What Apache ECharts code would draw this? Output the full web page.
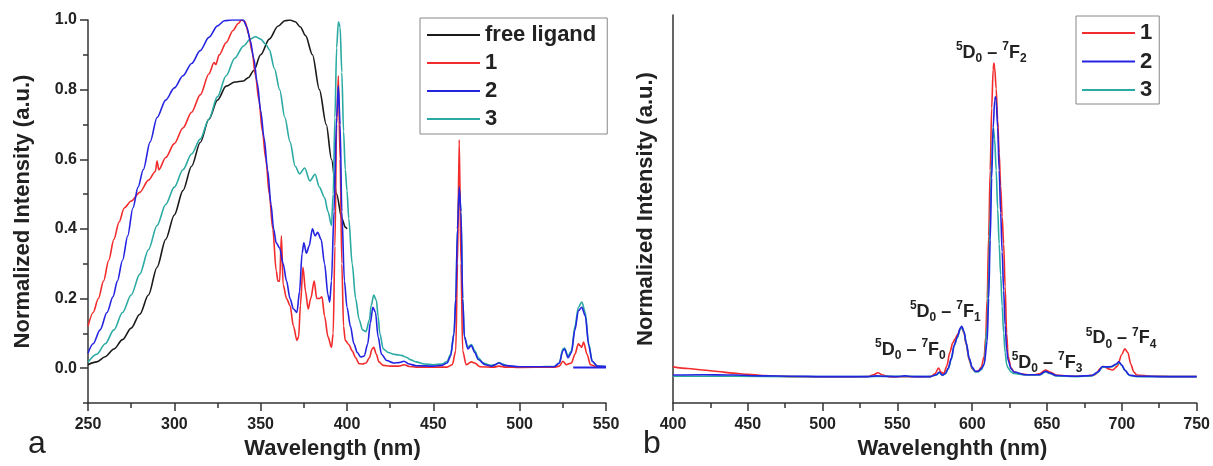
<!DOCTYPE html>
<html>
<head>
<meta charset="utf-8">
<script src="https://cdn.jsdelivr.net/npm/echarts@6/dist/echarts.min.js"></script>
<style>
html,body{margin:0;padding:0;background:#fff;}
#chart{width:1213px;height:466px;}
</style>
</head>
<body>
<div id="chart"></div>
<script>
// ---------- Panel a: excitation spectra ----------
const freeLigandA = [[250,0.010],[255,0.018],[260,0.033],[265,0.055],[270,0.082],[275,0.115],[280,0.155],[285,0.21],[290,0.29],[295,0.37],[300,0.44],[305,0.51],[310,0.58],[315,0.648],[320,0.715],[325,0.77],[330,0.81],[335,0.822],[340,0.825],[343,0.835],[346,0.855],[350,0.90],[355,0.945],[360,0.982],[364,0.998],[367,1.0],[370,0.995],[373,0.98],[376,0.955],[380,0.90],[384,0.80],[388,0.70],[391,0.60],[394,0.50],[397,0.43],[399,0.405],[400,0.40]];

const sample1A = [[250,0.12],[253,0.16],[256,0.20],[259,0.25],[262,0.31],[265,0.37],[268,0.42],[271,0.46],[275,0.48],[280,0.505],[285,0.54],[289,0.565],[290,0.595],[291,0.57],[295,0.605],[300,0.645],[305,0.69],[310,0.735],[315,0.785],[320,0.845],[323,0.878],[324,0.872],[326,0.90],[330,0.935],[334,0.97],[337,0.99],[339,1.0],[341,0.995],[343,0.96],[345,0.91],[347,0.84],[349,0.77],[351,0.68],[353,0.60],[355,0.50],[357,0.40],[359,0.28],[360,0.25],[361,0.25],[362,0.38],[363,0.24],[365,0.20],[367,0.18],[369,0.12],[371,0.08],[372,0.09],[373,0.18],[374.5,0.29],[376,0.22],[377.5,0.17],[379,0.20],[381,0.25],[382.5,0.20],[384,0.20],[385.5,0.205],[387,0.15],[389,0.09],[391,0.06],[392,0.10],[393,0.35],[394,0.70],[395,0.84],[396,0.60],[397,0.30],[398,0.12],[399,0.08],[401,0.068],[403,0.05],[405,0.03],[407,0.013],[409,0.012],[411,0.015],[413,0.03],[414.5,0.055],[415.5,0.06],[417,0.04],[418.5,0.018],[421,0.008],[425,0.006],[430,0.006],[433,0.01],[436,0.005],[440,0.003],[450,0.003],[458,0.003],[461,0.01],[463,0.05],[464,0.30],[465,0.656],[466,0.30],[467,0.05],[469,0.01],[472,0.018],[474,0.015],[477,0.004],[485,0.003],[488,0.006],[492,0.003],[500,0.002],[520,0.003],[523,0.006],[525,0.02],[527,0.01],[530,0.015],[532,0.04],[534,0.07],[535,0.065],[536,0.06],[537,0.075],[539,0.04],[541,0.01],[545,0.003],[550,0.003]];

const sample2A = [[250,0.043],[253,0.07],[257,0.11],[261,0.16],[264.5,0.205],[267,0.25],[270,0.31],[273,0.38],[276,0.46],[279,0.52],[282,0.57],[286,0.65],[290,0.72],[295,0.77],[300,0.805],[305,0.84],[310,0.875],[315,0.912],[320,0.95],[325,0.983],[329,0.998],[333,1.0],[340,1.0],[342,0.98],[344,0.94],[346,0.89],[348,0.82],[350,0.74],[352,0.66],[354,0.57],[356,0.47],[357.5,0.40],[359,0.36],[361,0.345],[363,0.30],[365,0.25],[367,0.20],[369,0.17],[371,0.16],[372.5,0.22],[374,0.33],[375,0.36],[376.5,0.33],[378,0.35],[380,0.40],[381.5,0.38],[383,0.39],[385,0.37],[387,0.30],[389,0.21],[390,0.19],[391,0.25],[392.5,0.45],[394,0.72],[395,0.81],[396,0.70],[397,0.45],[398.5,0.25],[400,0.175],[402,0.12],[404,0.07],[406,0.045],[408,0.032],[410,0.035],[412,0.07],[413.5,0.13],[415,0.175],[416.5,0.16],[418,0.09],[420,0.04],[423,0.022],[427,0.015],[430,0.016],[433,0.02],[436,0.012],[440,0.007],[450,0.006],[455,0.008],[458,0.015],[460,0.035],[462,0.10],[463,0.20],[464,0.40],[465,0.52],[466,0.45],[467,0.20],[468,0.09],[470,0.055],[472,0.065],[474,0.045],[476,0.025],[480,0.01],[484,0.006],[488,0.015],[491,0.008],[500,0.004],[520,0.004],[523,0.015],[525,0.05],[526,0.055],[528,0.03],[530,0.045],[532,0.11],[534,0.165],[536,0.175],[538,0.15],[540,0.065],[542,0.02],[545,0.006],[550,0.005]];

const sample2ABase = [[531,0.002],[550,0.002]];

const sample3A = [[250,0.017],[255,0.04],[260,0.07],[265,0.11],[270,0.16],[275,0.21],[280,0.27],[285,0.34],[290,0.41],[295,0.47],[300,0.52],[305,0.57],[310,0.615],[315,0.658],[320,0.715],[325,0.78],[330,0.84],[335,0.89],[340,0.925],[344,0.945],[347,0.952],[350,0.945],[353,0.93],[355,0.915],[358,0.86],[361,0.80],[364,0.72],[367,0.65],[370,0.58],[372.5,0.558],[375.5,0.575],[378.5,0.538],[381.5,0.557],[384,0.52],[387,0.49],[389,0.45],[391,0.41],[392,0.50],[393,0.72],[394,0.92],[395,0.995],[396,0.98],[397,0.85],[398,0.68],[399,0.57],[400,0.51],[401,0.43],[403,0.30],[405,0.20],[407,0.14],[409,0.11],[411,0.105],[413,0.14],[414,0.18],[415.5,0.21],[417,0.195],[418,0.15],[419,0.10],[421,0.055],[424,0.045],[427,0.04],[430,0.038],[432,0.036],[434,0.032],[437,0.024],[440,0.018],[445,0.012],[450,0.01],[455,0.012],[458,0.02],[460,0.04],[462,0.10],[463,0.20],[464,0.40],[465,0.52],[466,0.45],[467,0.20],[468,0.09],[470,0.06],[472,0.068],[474,0.05],[476,0.03],[479,0.015],[483,0.008],[486,0.01],[488,0.016],[490,0.012],[493,0.006],[500,0.004],[510,0.004],[520,0.005],[523,0.015],[525,0.055],[526,0.058],[528,0.035],[530,0.05],[532,0.12],[534,0.175],[536,0.19],[538,0.16],[540,0.07],[542,0.02],[545,0.006],[550,0.005]];

// ---------- Panel b: emission spectra ----------
const sample1B = [[400,0.093],[410,0.089],[420,0.085],[430,0.081],[440,0.077],[450,0.074],[460,0.071],[470,0.069],[480,0.068],[500,0.067],[520,0.067],[530,0.068],[534,0.073],[537,0.078],[540,0.072],[545,0.067],[555,0.068],[565,0.067],[572,0.068],[575,0.075],[577.5,0.09],[579,0.08],[581,0.076],[583,0.095],[585,0.13],[587,0.155],[588.5,0.165],[590,0.175],[592,0.19],[593,0.195],[594.5,0.18],[596,0.15],[598,0.11],[600,0.088],[602,0.081],[604,0.083],[606,0.092],[608,0.12],[609,0.17],[610,0.27],[611,0.43],[612,0.60],[613,0.76],[614,0.86],[614.5,0.876],[615,0.865],[616,0.81],[617,0.73],[618,0.645],[619,0.56],[620,0.48],[621,0.41],[622,0.30],[623,0.18],[624,0.12],[626,0.09],[628,0.08],[632,0.075],[640,0.072],[645,0.075],[649,0.085],[652,0.08],[656,0.072],[665,0.069],[675,0.069],[682,0.073],[686,0.09],[688,0.094],[691,0.088],[694,0.085],[697,0.095],[700,0.125],[702,0.14],[704,0.13],[706,0.10],[708,0.08],[710,0.072],[720,0.069],[735,0.068],[750,0.068]];

const sample2B = [[400,0.072],[420,0.073],[440,0.072],[460,0.07],[480,0.069],[500,0.068],[530,0.068],[536,0.07],[540,0.069],[550,0.068],[555,0.07],[560,0.068],[572,0.068],[576,0.073],[578,0.08],[580,0.072],[582,0.076],[584,0.09],[586,0.115],[588,0.15],[590,0.17],[592,0.193],[593,0.198],[594.5,0.185],[596,0.155],[598,0.115],[600,0.092],[602,0.082],[604,0.082],[606,0.088],[608,0.10],[610,0.16],[611,0.27],[612,0.42],[613,0.58],[614,0.71],[615,0.78],[615.5,0.789],[616,0.78],[617,0.71],[618,0.60],[619,0.49],[620,0.39],[621,0.29],[622,0.20],[623,0.14],[624,0.11],[626,0.088],[628,0.08],[635,0.073],[645,0.073],[649,0.082],[652,0.077],[656,0.071],[670,0.069],[680,0.071],[684,0.08],[687,0.094],[690,0.093],[693,0.094],[696,0.10],[698,0.106],[700,0.098],[702,0.085],[705,0.072],[710,0.069],[730,0.068],[750,0.068]];

const sample3B = [[400,0.069],[440,0.069],[480,0.068],[530,0.068],[540,0.069],[572,0.068],[576,0.072],[578,0.078],[580,0.071],[582,0.075],[584,0.088],[586,0.112],[588,0.148],[590,0.168],[592,0.19],[593,0.196],[594.5,0.183],[596,0.153],[598,0.113],[600,0.09],[602,0.08],[604,0.08],[606,0.086],[608,0.10],[610,0.20],[611,0.33],[612,0.48],[613,0.63],[614,0.711],[615,0.68],[616,0.60],[617,0.50],[618,0.41],[619,0.33],[620,0.25],[621,0.18],[622,0.13],[623,0.10],[624,0.09],[626,0.08],[628,0.076],[635,0.072],[645,0.072],[649,0.08],[652,0.076],[656,0.07],[670,0.068],[680,0.07],[684,0.079],[687,0.092],[690,0.092],[693,0.093],[696,0.099],[698,0.104],[700,0.097],[702,0.084],[705,0.071],[710,0.068],[730,0.068],[750,0.068]];

// tick values / labels
const yTicksA = [0.0, 0.2, 0.4, 0.6, 0.8, 1.0];
const yMinorTicksA = [-0.1, 0.1, 0.3, 0.5, 0.7, 0.9];
const legendA = ['free ligand', '1', '2', '3'];
const legendB = ['1', '2', '3'];
// transition annotations (sub index of 7F_J, anchor in data coords)
const transitions = [
  {j: '2', at: [612.7, 0.902]},
  {j: '1', at: [582, 0.235]},
  {j: '0', at: [558.7, 0.137]},
  {j: '3', at: [650, 0.103]},
  {j: '4', at: [699.5, 0.167]}
];

const FONT = '"Liberation Sans", Arial, Helvetica, sans-serif';
const C_BLACK = '#1a1a1a', C_RED = '#f22c2c', C_BLUE = '#2424e0', C_TEAL = '#2aaaa2';
const AX = '#333';

function lineSeries(name, data, color, xi, yi, extra) {
  return Object.assign({
    type: 'line', name: name, data: data, xAxisIndex: xi, yAxisIndex: yi,
    symbol: 'none', smooth: 0.3, smoothMonotone: 'x',
    lineStyle: {color: color, width: 1.6}, itemStyle: {color: color},
    silent: true
  }, extra || {});
}

const axisLineStyle = {show: true, onZero: false, lineStyle: {color: AX, width: 1.5}};
const tickStyle = {color: AX, width: 1.5};
const labelStyle = {fontSize: 16, fontWeight: 'bold', color: '#222', fontFamily: FONT};
const nameStyle = {fontSize: 22, fontWeight: 'bold', color: '#222', fontFamily: FONT};

const rich = {
  t: {fontSize: 18, fontWeight: 'bold', color: '#222', fontFamily: FONT, lineHeight: 24},
  s: {fontSize: 12, fontWeight: 'bold', color: '#222', fontFamily: FONT, lineHeight: 14, verticalAlign: 'top'},
  d: {fontSize: 12, fontWeight: 'bold', color: '#222', fontFamily: FONT, lineHeight: 14, verticalAlign: 'bottom'}
};

const option = {
  animation: false,
  backgroundColor: '#fff',
  grid: [
    {left: 88, top: 20, width: 518, bottom: 63},
    {left: 673, top: 15, width: 526, bottom: 63}
  ],
  xAxis: [
    {gridIndex: 0, type: 'value', min: 250, max: 550, interval: 50,
     name: 'Wavelength (nm)', nameLocation: 'middle', nameGap: 35,
     nameTextStyle: Object.assign({padding: [0, 29, 0, 0]}, nameStyle),
     axisLine: axisLineStyle,
     axisTick: {show: true, length: 8, lineStyle: tickStyle},
     minorTick: {show: true, splitNumber: 2, length: 5, lineStyle: tickStyle},
     axisLabel: Object.assign({margin: 14}, labelStyle),
     splitLine: {show: false}},
    {gridIndex: 1, type: 'value', min: 400, max: 750, interval: 50,
     name: 'Wavelenghth (nm)', nameLocation: 'middle', nameGap: 35,
     nameTextStyle: Object.assign({padding: [0, 0, 0, 35]}, nameStyle),
     axisLine: axisLineStyle,
     axisTick: {show: true, length: 8, lineStyle: tickStyle},
     minorTick: {show: true, splitNumber: 2, length: 5, lineStyle: tickStyle},
     axisLabel: Object.assign({margin: 14}, labelStyle),
     splitLine: {show: false}}
  ],
  yAxis: [
    {gridIndex: 0, type: 'value', min: -0.1, max: 1.0, position: 'left',
     name: 'Normalized Intensity (a.u.)', nameLocation: 'middle', nameGap: 54,
     nameTextStyle: nameStyle,
     axisLine: axisLineStyle,
     axisTick: {show: true, length: 8, lineStyle: tickStyle, customValues: yTicksA},
     axisLabel: Object.assign({margin: 11, customValues: yTicksA, formatter: v => Number(v).toFixed(1)}, labelStyle),
     splitLine: {show: false}},
    {gridIndex: 0, type: 'value', min: -0.1, max: 1.0, position: 'left', offset: 0,
     axisLine: {show: false},
     axisTick: {show: true, length: 5, lineStyle: tickStyle, customValues: yMinorTicksA},
     axisLabel: {show: false},
     splitLine: {show: false}},
    {gridIndex: 1, type: 'value', min: 0, max: 1, position: 'left',
     name: 'Normalized Intensity (a.u.)', nameLocation: 'middle', nameGap: 16,
     nameTextStyle: nameStyle,
     axisLine: axisLineStyle,
     axisTick: {show: false}, axisLabel: {show: false},
     splitLine: {show: false}}
  ],
  legend: [
    {left: 420, top: 18, orient: 'vertical', data: legendA, icon: 'rect',
     itemWidth: 53, itemHeight: 2, itemGap: 6, padding: [6, 11, 4, 7],
     borderColor: '#888', borderWidth: 1, selectedMode: false,
     textStyle: Object.assign({lineHeight: 22}, nameStyle)},
    {left: 1076, top: 16, orient: 'vertical', data: legendB, icon: 'rect',
     itemWidth: 53, itemHeight: 2, itemGap: 6.5, padding: [6, 7, 3, 6],
     borderColor: '#888', borderWidth: 1, selectedMode: false,
     textStyle: Object.assign({lineHeight: 22}, nameStyle)}
  ],
  graphic: [
    {type: 'text', left: 28, top: 428, silent: true,
     style: {text: 'a', fontSize: 32, fontFamily: FONT, fill: '#222'}},
    {type: 'text', left: 643, top: 428, silent: true,
     style: {text: 'b', fontSize: 32, fontFamily: FONT, fill: '#222'}}
  ],
  series: [
    lineSeries('free ligand', freeLigandA, C_BLACK, 0, 0),
    lineSeries('3', sample3A, C_TEAL, 0, 0),
    lineSeries('1', sample1A, C_RED, 0, 0),
    lineSeries('2', sample2A, C_BLUE, 0, 0),
    lineSeries('2', sample2ABase, C_BLUE, 0, 0, {lineStyle: {color: C_BLUE, width: 2}}),
    lineSeries('1', sample1B, C_RED, 1, 2, {
      markPoint: {
        symbol: 'circle', symbolSize: 0, silent: true, animation: false,
        label: {show: true, position: 'inside', rich: rich,
          formatter: p => '{s|5}{t|D}{d|0}{t| \u2013 }{s|7}{t|F}{d|' + p.name + '}'},
        data: transitions.map(tr => ({name: tr.j, coord: tr.at}))
      }
    }),
    lineSeries('3', sample3B, C_TEAL, 1, 2),
    lineSeries('2', sample2B, C_BLUE, 1, 2)
  ]
};

const chart = echarts.init(document.getElementById('chart'), null, {renderer: 'canvas'});
chart.setOption(option);
</script>
</body>
</html>
